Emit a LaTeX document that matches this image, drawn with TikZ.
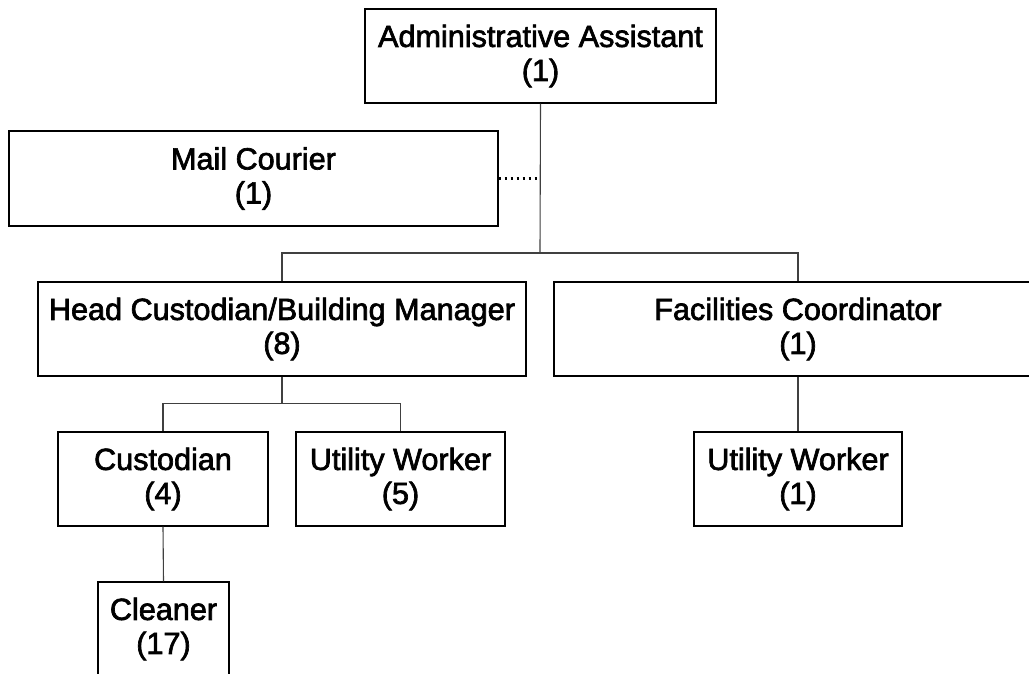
\documentclass[tikz,border=0pt]{standalone}
\usepackage{fontspec}
\setmainfont{Liberation Sans}
\newfontfamily\heavyfont{Liberation Sans}[FakeBold=2.2]
\begin{document}
\begin{tikzpicture}[x=1pt,y=-1pt,
  box/.style={draw=black, line width=1.1pt, fill=white, inner sep=0pt, align=center,
    font=\heavyfont\fontsize{30.6}{34}\selectfont, minimum height=94pt},
  link/.style={draw=black!75, line width=1.1pt},
  dotlink/.style={draw=black, line width=2.2pt, dash pattern=on 2.5pt off 3.5pt}]
\clip (0,0) rectangle (1029,673);
\fill[white] (0,0) rectangle (1029,673);
\node[box, minimum width=351pt] (admin) at (540.5,56) {Administrative Assistant\\(1)};
\node[box, minimum width=489pt, minimum height=95pt] (mail) at (253.5,178.5) {Mail Courier\\(1)};
\node[box, minimum width=488pt] (head) at (282,329) {Head Custodian/Building Manager\\(8)};
\node[box, minimum width=488pt] (fac) at (798,329) {Facilities Coordinator\\(1)};
\node[box, minimum width=210pt] (cust) at (163,479) {Custodian\\(4)};
\node[box, minimum width=209pt] (uwa) at (400.5,479) {Utility Worker\\(5)};
\node[box, minimum width=208pt] (uwb) at (798,479) {Utility Worker\\(1)};
\node[box, minimum width=131pt] (clean) at (163.5,629) {Cleaner\\(17)};
\coordinate (j1) at (540,253);
\coordinate (j2) at (282,403.5);
\draw[link] (admin.south) -- (j1);
\draw[link] (head.north) -- (head.north |- j1) -- (fac.north |- j1) -- (fac.north);
\draw[dotlink] (mail.east) -- (mail.east -| j1);
\draw[link] (head.south) -- (j2);
\draw[link] (cust.north) -- (cust.north |- j2) -- (uwa.north |- j2) -- (uwa.north);
\draw[link] (fac.south) -- (uwb.north);
\draw[link] (cust.south) -- (clean.north);
\end{tikzpicture}
\end{document}
